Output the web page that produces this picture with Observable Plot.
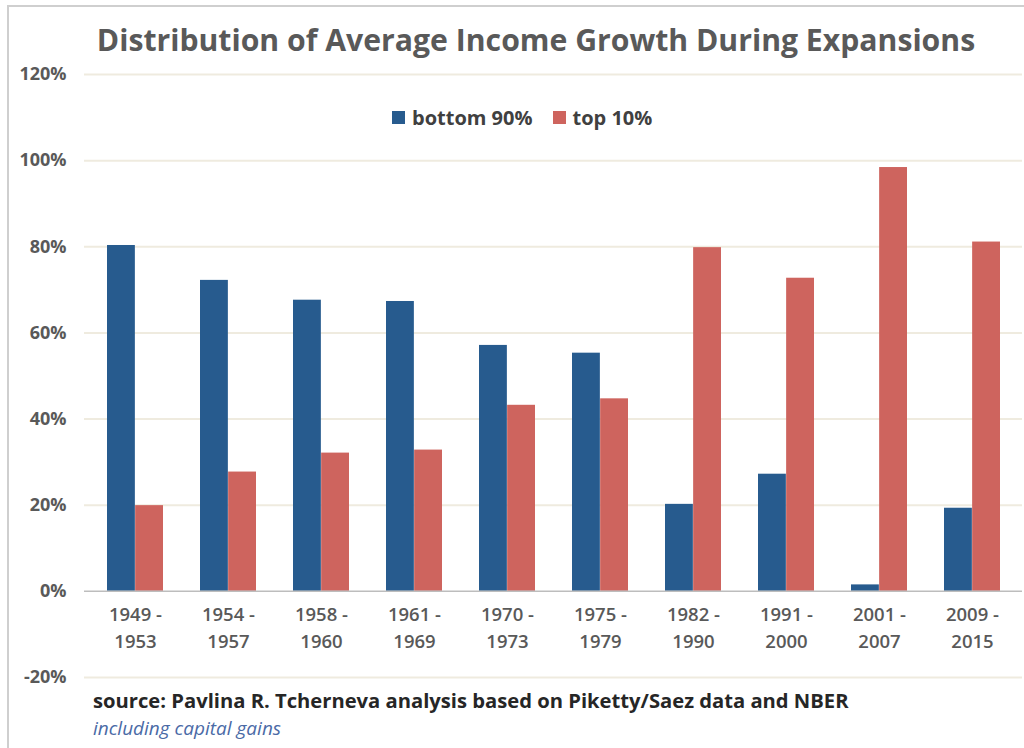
<!DOCTYPE html>
<html>
<head>
<meta charset="utf-8">
<script src="https://cdn.jsdelivr.net/npm/d3@7"></script>
<script src="https://cdn.jsdelivr.net/npm/@observablehq/plot@0.6"></script>
<style>
  html, body { margin: 0; padding: 0; background: #fff; }
  #page { position: relative; width: 1024px; height: 748px; overflow: hidden; background: #fff; }
  #frame { position: absolute; left: 7px; top: 5px; width: 1030px; height: 760px; border-left: 2px solid #cfcfcf; border-top: 2px solid #cfcfcf; }
  #title { position: absolute; left: 48px; width: 976px; top: 19px; text-align: center;
           font-family: "Open Sans", sans-serif; font-weight: 700; font-size: 30.2px; color: #595959; white-space: nowrap; }
  #chart { position: absolute; left: 0; top: 62px; }
  #legend { position: absolute; left: 392px; top: 104px; font-family: "Open Sans", sans-serif; font-weight: 700;
            font-size: 20px; color: #404040; display: flex; align-items: center; white-space: nowrap; }
  #legend .sw { width: 13px; height: 13px; display: inline-block; margin-right: 7px; }
  #legend .item { display: flex; align-items: center; margin-right: 20px; }
  #source { position: absolute; left: 93px; top: 686px; font-family: "Open Sans", sans-serif; font-weight: 700;
            font-size: 20.2px; color: #262626; white-space: nowrap; }
  #note { position: absolute; left: 93px; top: 715px; font-family: "Open Sans", sans-serif; font-style: italic;
          font-size: 19px; color: #4a6aa6; white-space: nowrap; }
</style>
</head>
<body>
<div id="page">
  <div id="frame"></div>
  <div id="title">Distribution of Average Income Growth During Expansions</div>
  <div id="chart"></div>
  <div id="legend"></div>
  <div id="source">source: Pavlina R. Tcherneva analysis based on Piketty/Saez data and NBER</div>
  <div id="note">including capital gains</div>
</div>
<script>
const periods = ["1949 - 1953", "1954 - 1957", "1958 - 1960", "1961 - 1969", "1970 - 1973",
                 "1975 - 1979", "1982 - 1990", "1991 - 2000", "2001 - 2007", "2009 - 2015"];
const bottom90 = [80.3, 72.2, 67.6, 67.3, 57.1, 55.3, 20.2, 27.2, 1.5, 19.3];
const top10 = [19.9, 27.7, 32.1, 32.8, 43.2, 44.7, 79.8, 72.7, 98.4, 81.1];
const seriesNames = ["bottom 90%", "top 10%"];
const seriesColors = ["#275b8e", "#ce645e"];
const yTicks = [-20, 0, 20, 40, 60, 80, 100, 120];

const rowsB = periods.map((p, i) => ({period: p, value: bottom90[i], series: seriesNames[0]}));
const rowsT = periods.map((p, i) => ({period: p, value: top10[i], series: seriesNames[1]}));

const width = 1024, marginLeft = 84, marginRight = 2;
const xPadding = 0.4;
const step = (width - marginLeft - marginRight) / periods.length;
const bw = step * (1 - xPadding);
const half = bw / 2;

const chart = Plot.plot({
  width: width,
  height: 626,
  marginTop: 12,
  marginBottom: 11,
  marginLeft: marginLeft,
  marginRight: marginRight,
  style: {background: "transparent", fontFamily: "Open Sans, sans-serif"},
  x: {domain: periods, paddingInner: xPadding, paddingOuter: xPadding / 2, axis: null},
  y: {domain: [-20, 120], axis: null},
  color: {domain: seriesNames, range: seriesColors},
  marks: [
    Plot.ruleY(yTicks.filter(d => d !== 0), {stroke: "#efebdf", strokeWidth: 2}),
    Plot.barY(rowsB, {x: "period", y: "value", fill: "series", insetRight: half}),
    Plot.barY(rowsT, {x: "period", y: "value", fill: "series", insetLeft: half}),
    Plot.ruleY([0], {stroke: "#bdbdbd", strokeWidth: 1.5}),
    Plot.axisY({ticks: yTicks, tickSize: 0, tickPadding: 18, tickFormat: d => d + "%",
                fontSize: 18, fontWeight: 700, fill: "#595959", label: null}),
    Plot.text(periods, {x: d => d, y: d => 0, text: d => d.replace(" - ", " -\n"),
                        lineAnchor: "top", dy: 10, fontSize: 18.5, lineHeight: 1.46, fill: "#595959", fontWeight: 600})
  ]
});
document.getElementById("chart").appendChild(chart);

const legend = document.getElementById("legend");
seriesNames.forEach((name, i) => {
  const item = document.createElement("span");
  item.className = "item";
  const sw = document.createElement("span");
  sw.className = "sw";
  sw.style.background = seriesColors[i];
  item.appendChild(sw);
  item.appendChild(document.createTextNode(name));
  legend.appendChild(item);
});
</script>
</body>
</html>
